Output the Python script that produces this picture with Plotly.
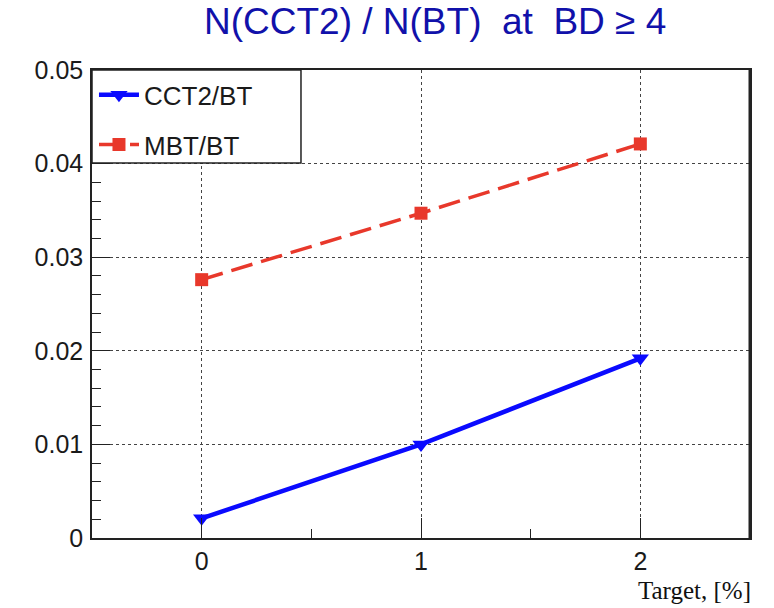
import plotly.graph_objects as go

# Target fraction, [%]
target = [0, 1, 2]
# Ratios of selected event counts
cct2_bt = [0.0021, 0.0100, 0.0192]
mbt_bt = [0.0276, 0.0347, 0.0421]

series_names = ["CCT2/BT", "MBT/BT"]
title_text = "N(CCT2) / N(BT)\u00a0\u00a0at\u00a0\u00a0BD \u2265 4"
x_title = "Target, [%]"

BLUE = "#0a0aff"
RED = "#e8382b"
INK = "#1a1a1a"
FRAME = "#222222"

fig = go.Figure()

fig.add_trace(go.Scatter(
    x=target, y=cct2_bt, name=series_names[0], mode="lines+markers",
    line=dict(color=BLUE, width=4.5),
    marker=dict(symbol="triangle-down", size=15, color=BLUE),
    legendgroup="a",
))
fig.add_trace(go.Scatter(
    x=target, y=mbt_bt, name=series_names[1], mode="lines+markers",
    line=dict(color=RED, width=3.5, dash="22px,9px"),
    marker=dict(symbol="square", size=13, color=RED),
    legendgroup="b",
))

axis_common = dict(
    showline=True, linecolor=FRAME, linewidth=1.5, mirror=True,
    ticks="inside", tickcolor=FRAME, tickwidth=1.2,
    showgrid=True, gridcolor="#444444", gridwidth=1, griddash="dot",
    zeroline=False,
    tickfont=dict(family="Liberation Sans, Arial, sans-serif", size=25, color=INK),
)

fig.update_xaxes(
    range=[-0.5, 2.5], tickmode="array", tickvals=target,
    ticktext=[str(v) for v in target], ticklen=20,
    minor=dict(dtick=0.5, ticks="inside", ticklen=9, tickcolor=FRAME, showgrid=False),
    **axis_common,
)
fig.update_yaxes(
    range=[0, 0.05], tickmode="array",
    tickvals=[0, 0.01, 0.02, 0.03, 0.04, 0.05],
    ticktext=["0", "0.01", "0.02", "0.03", "0.04", "0.05"], ticklen=18,
    ticklabelstandoff=2,
    minor=dict(dtick=0.002, ticks="inside", ticklen=9, tickcolor=FRAME, showgrid=False),
    **axis_common,
)

# Legend frame (white box in the upper-left corner of the frame)
fig.add_shape(type="rect", xref="paper", yref="paper",
              x0=0, x1=0.3176, y0=0.8013, y1=1,
              line=dict(color=FRAME, width=1.5), fillcolor="white", layer="above")
# Heavier right edge of the frame
fig.add_shape(type="line", xref="paper", yref="paper",
              x0=1, x1=1, y0=0, y1=1,
              line=dict(color=FRAME, width=3), layer="above")

fig.update_layout(
    width=774, height=608,
    margin=dict(l=92, r=24, t=70, b=70),
    paper_bgcolor="white", plot_bgcolor="white",
    showlegend=True,
    legend=dict(
        x=0.003, y=0.997, xanchor="left", yanchor="top",
        bgcolor="rgba(0,0,0,0)", borderwidth=0,
        font=dict(family="Liberation Sans, Arial, sans-serif", size=26, color=INK),
        tracegroupgap=13, traceorder="grouped", itemwidth=40,
    ),
    annotations=[
        dict(text=title_text, xref="paper", yref="paper",
             x=(435 - 92) / 658, y=1 + (70 - 22) / 468,
             xanchor="center", yanchor="middle", showarrow=False,
             font=dict(family="Liberation Sans, Arial, sans-serif", size=37, color="#1111aa")),
        dict(text=x_title, xref="paper", yref="paper",
             x=(753 - 92) / 658, y=-(590 - 538) / 468,
             xanchor="right", yanchor="middle", showarrow=False,
             font=dict(family="Liberation Serif, Times New Roman, serif", size=25, color="#111111")),
    ],
)

fig.write_html("out.html")
